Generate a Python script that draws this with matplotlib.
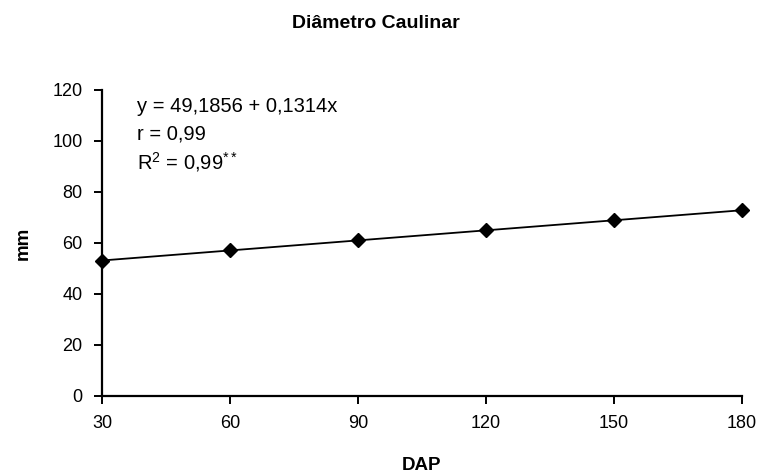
import numpy as np
import matplotlib.pyplot as plt

# dados
dap = [30, 60, 90, 120, 150, 180]
diametro = [52.8, 57.3, 61.3, 65.2, 69.0, 72.8]
b0 = 49.1856
b1 = 0.1314

plt.rcParams['font.family'] = ['Liberation Sans', 'DejaVu Sans']
plt.rcParams['mathtext.fontset'] = 'custom'
plt.rcParams['mathtext.rm'] = 'Liberation Sans'
plt.rcParams['mathtext.it'] = 'Liberation Sans'

fig = plt.figure(figsize=(7.61, 4.74), dpi=100)
ax = fig.add_axes([0.134, 0.1646, 0.841, 0.6456])

# reta ajustada
xr = np.array([dap[0], dap[-1]])
ax.plot(xr, b0 + b1 * xr, color='black', linewidth=1.3, zorder=2)
ax.plot(dap, diametro, linestyle='none', marker='D', markersize=7.5,
        color='black', zorder=3, clip_on=False)

ax.set_xlim(30, 180)
ax.set_ylim(0, 120)
ax.set_xticks([30, 60, 90, 120, 150, 180])
ax.set_yticks(range(0, 121, 20))
ax.tick_params(direction='out', length=6, width=1.4, labelsize=13, pad=8)
for s in ['top', 'right']:
    ax.spines[s].set_visible(False)
for s in ['left', 'bottom']:
    ax.spines[s].set_linewidth(1.6)

ax.text(0.055, 0.928, 'y = 49,1856 + 0,1314x', transform=ax.transAxes,
        fontsize=14.5, va='baseline')
ax.text(0.055, 0.837, 'r = 0,99', transform=ax.transAxes,
        fontsize=14.5, va='baseline')
ax.text(0.055, 0.742, r'R$^{2}$ = 0,99$^{**}$',
        transform=ax.transAxes, fontsize=14.5, va='baseline')

fig.text(0.494, 0.951, 'Diâmetro Caulinar', ha='center', va='center',
         fontsize=14, fontweight='bold')
ax.set_xlabel('DAP', fontsize=13.5, fontweight='bold', labelpad=18)
ax.set_ylabel('mm', fontsize=13.5, fontweight='bold', labelpad=15)

plt.savefig('out.png', dpi=100)
